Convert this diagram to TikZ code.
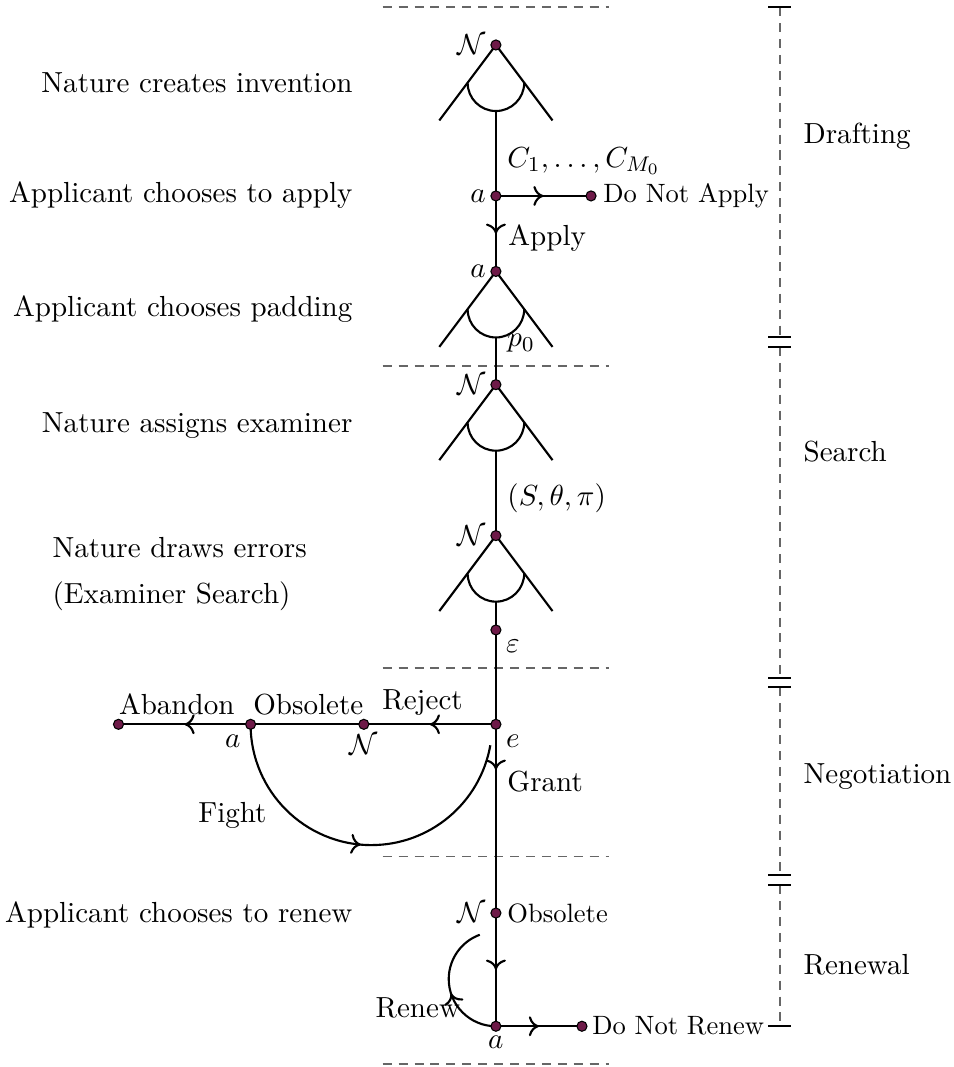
\documentclass[11pt,tikz,border=0pt]{standalone}
\usepackage{amsmath,amssymb}
\usetikzlibrary{arrows.meta,decorations.markings}

\definecolor{nodepurple}{RGB}{110,26,72}

\tikzset{
  edge/.style={line width=0.8pt},
  midarrow/.style={postaction={decorate},
    decoration={markings,mark=at position #1 with {\arrow{To[length=3.8pt,width=7.5pt]}}}},
  midarrow/.default=0.5,
  dot/.style={circle,draw=black,line width=0.4pt,fill=nodepurple,inner sep=0pt,minimum size=3.8pt},
  stage/.style={anchor=base east,inner sep=0pt},
  txt/.style={anchor=base west,inner sep=0pt},
  sep/.style={black!60,line width=0.6pt,dash pattern=on 3.4pt off 2.6pt},
  tick/.style={line width=0.8pt},
}

% chance / choice fan below a node
\newcommand{\chancefan}[1]{%
  \draw[edge] (#1) -- ++(-0.75,-1);
  \draw[edge] (#1) -- ++(0.75,-1);
  \draw[edge] ([shift={(-0.375,-0.5)}]#1) arc[start angle=180,end angle=360,radius=0.375];
}

\begin{document}
\begin{tikzpicture}
\useasboundingbox (-6.57,0.596) rectangle (6.065,-13.54);

% separators between phases
\foreach \y in {0.5,-4.25,-8.25,-10.75,-13.5}
  \draw[sep] (-1.5,\y) -- (1.5,\y);

% decision nodes
\coordinate (n1) at (0,0);
\coordinate (a1) at (0,-2);
\coordinate (noapply) at (1.26,-2);
\coordinate (a2) at (0,-3);
\coordinate (n3) at (0,-4.5);
\coordinate (n4) at (0,-6.5);
\coordinate (eps) at (0,-7.75);
\coordinate (e) at (0,-9);
\coordinate (nrej) at (-1.75,-9);
\coordinate (arej) at (-3.25,-9);
\coordinate (aband) at (-5,-9);
\coordinate (n5) at (0,-11.5);
\coordinate (a3) at (0,-13);
\coordinate (norenew) at (1.14,-13);

\chancefan{n1}
\chancefan{a2}
\chancefan{n3}
\chancefan{n4}

% branches
\draw[edge] ([yshift=-0.875cm]n1) -- (a1);
\draw[edge,midarrow] (a1) -- (noapply);
\draw[edge,midarrow] (a1) -- (a2);
\draw[edge] ([yshift=-0.875cm]a2) -- (n3);
\draw[edge] ([yshift=-0.875cm]n3) -- (n4);
\draw[edge] ([yshift=-0.875cm]n4) -- (eps);
\draw[edge] (eps) -- (e);
\draw[edge,midarrow] (e) -- (nrej);
\draw[edge] (nrej) -- (arej);
\draw[edge,midarrow] (arej) -- (aband);
\draw[edge,midarrow] (arej) arc[start angle=180,end angle=350,radius=1.6];
\draw[edge,midarrow=0.24] (e) -- (n5);
\draw[edge,midarrow] (n5) -- (a3);
\draw[edge,midarrow] (a3) -- (norenew);
\draw[edge,midarrow=0.45] (a3) arc[start angle=270,end angle=110,radius=0.625];

\foreach \p in {n1,a1,noapply,a2,n3,n4,eps,e,nrej,arej,aband,n5,a3,norenew}
  \node[dot] at (\p) {};

% node labels
\node[left] at (n1) {$\mathcal{N}$};
\node[left] at (a1) {$a$};
\node[left] at (a2) {$a$};
\node[left] at (n3) {$\mathcal{N}$};
\node[left] at (n4) {$\mathcal{N}$};
\node[below right] at (eps) {$\varepsilon$};
\node[below right] at (e) {$e$};
\node[below] at (nrej) {$\mathcal{N}$};
\node[below left] at (arej) {$a$};
\node[left] at (n5) {$\mathcal{N}$};
\node[below] at (a3) {$a$};

% branch labels
\node[txt] at (0.146,-1.62) {$C_1,\ldots,C_{M_0}$};
\node[txt] at (1.417,-2.09) {\small Do Not Apply};
\node[txt] at (0.159,-2.66) {Apply};
\node[txt] at (0.146,-4.0) {$p_0$};
\node[txt] at (0.146,-6.1) {$(S,\theta,\pi)$};
\node[txt] at (-1.51,-8.81) {Reject};
\node[txt] at (-3.22,-8.87) {Obsolete};
\node[txt] at (-5.0,-8.87) {Abandon};
\node[txt] at (-3.95,-10.3) {Fight};
\node[txt] at (0.146,-9.89) {Grant};
\node[txt] at (0.146,-11.63) {\small Obsolete};
\node[txt] at (-1.60,-12.89) {Renew};
\node[txt] at (1.27,-13.11) {\small Do Not Renew};

% stage descriptions
\node[stage] at (-1.894,-0.636) {Nature creates invention};
\node[stage] at (-1.894,-2.09) {Applicant chooses to apply};
\node[stage] at (-1.894,-3.6) {Applicant chooses padding};
\node[stage] at (-1.894,-5.13) {Nature assigns examiner};
\node[txt] at (-5.88,-6.79) {Nature draws errors};
\node[txt] at (-5.88,-7.40) {(Examiner Search)};
\node[stage] at (-1.894,-11.63) {Applicant chooses to renew};

% phases
\foreach \t/\b in {0.5/-3.87,-4.0/-8.39,-8.51/-11.0,-11.13/-13.0}
  \draw[sep] (3.76,\t) -- (3.76,\b);
\foreach \y in {0.5,-3.87,-4.0,-8.39,-8.51,-11.0,-11.13,-13.0}
  \draw[tick] (3.61,\y) -- (3.91,\y);
\node[txt] at (4.07,-1.3) {Drafting};
\node[txt] at (4.07,-5.52) {Search};
\node[txt] at (4.07,-9.78) {Negotiation};
\node[txt] at (4.07,-12.32) {Renewal};
\end{tikzpicture}
\end{document}
